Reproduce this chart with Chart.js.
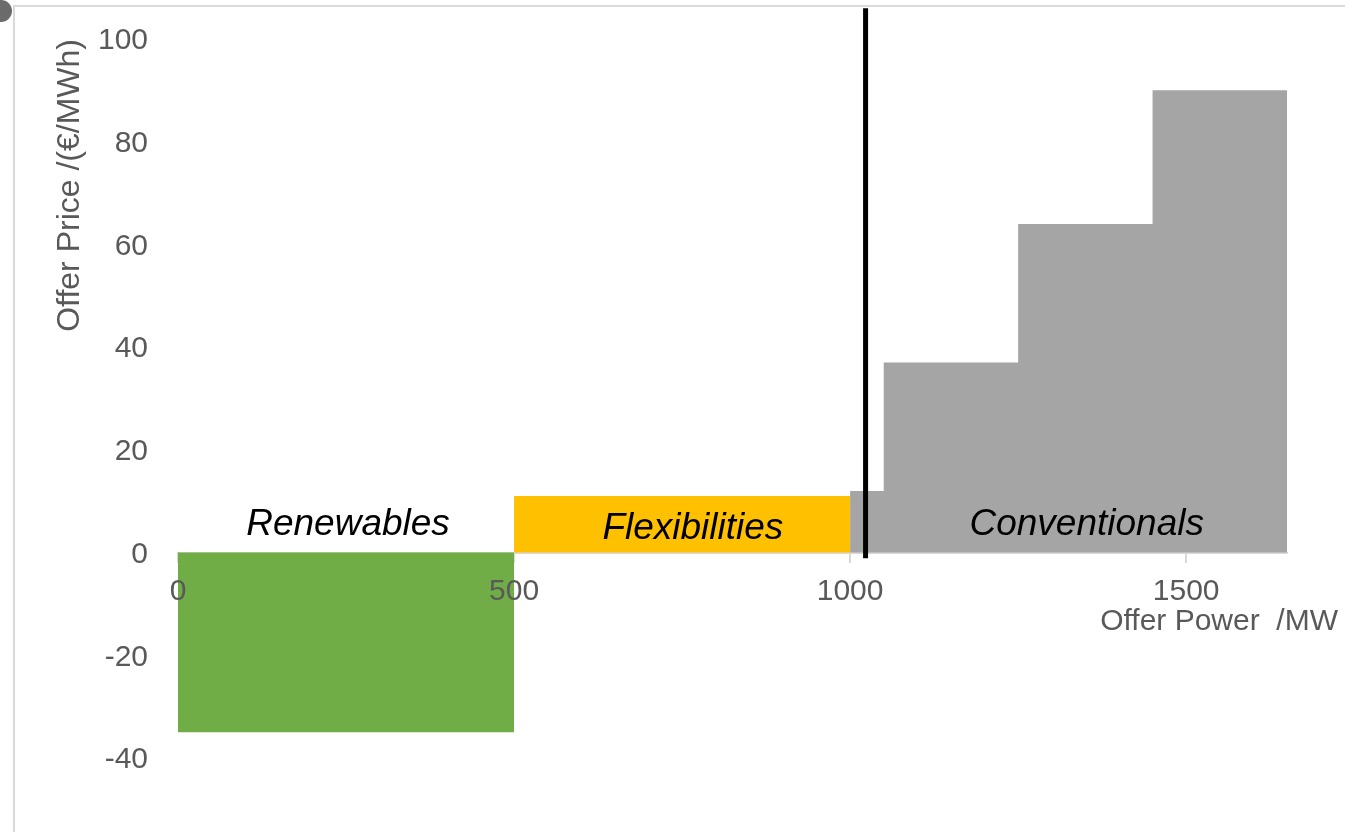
<!DOCTYPE html>
<html><head><meta charset="utf-8">
<script src="https://cdn.jsdelivr.net/npm/chart.js@4.4.1/dist/chart.umd.min.js"></script>
<style>
html,body{margin:0;padding:0;background:#fff;overflow:hidden;width:1345px;height:832px;}
#wrap{position:absolute;left:0;top:0;width:1345px;height:832px;}
.frameTop{position:absolute;left:13px;top:5px;width:1332px;height:2px;background:#dadada;}
.frameLeft{position:absolute;left:13px;top:5px;width:2px;height:827px;background:#dadada;}
.corner{position:absolute;left:-10px;top:0px;width:22px;height:22px;border-radius:50%;background:#6b6b6b;}
</style></head>
<body>
<div id="wrap"><canvas id="c"></canvas></div>
<div class="frameTop"></div><div class="frameLeft"></div><div class="corner"></div>
<script>
// ---- data ----
const blockStartMW = [0, 500, 1000, 1050, 1250, 1450];
const blockEndMW = [500, 1000, 1050, 1250, 1450, 1650];
const offerPrice = [-35, 11, 12, 37, 64, 90];
const blockTechnology = ['Renewables', 'Flexibilities', 'Conventionals', 'Conventionals', 'Conventionals', 'Conventionals'];
const technologies = ['Renewables', 'Flexibilities', 'Conventionals'];
const techColors = ['#70AD47', '#FFC000', '#A5A5A5'];
const techLabelX = [253, 766, 1352];
const techLabelY = [5.5, 4.6, 5.5];
const demandMW = 1023;
const demandLineY = [-1.1, 106];
const xTickValues = [0, 500, 1000, 1500];
const yTickValues = [-40, -20, 0, 20, 40, 60, 80, 100];
const xAxisTitle = 'Offer Power  /MW';
const yAxisTitle = 'Offer Price /(€/MWh)';

const FONT = '"Liberation Sans", Arial, sans-serif';
const AXIS_GREY = '#595959';

// build step datasets per technology
const datasets = [];
datasets.push({
  label: 'Demand',
  data: demandLineY.map(v => ({x: demandMW, y: v})),
  borderColor: '#000000',
  borderWidth: 5,
  pointRadius: 0,
  fill: false,
  clip: false,
  borderCapStyle: 'butt'
});
technologies.forEach((tech, ti) => {
  const pts = [];
  let lastEnd = null, lastPrice = null;
  blockTechnology.forEach((t, i) => {
    if (t !== tech) return;
    pts.push({x: blockStartMW[i], y: offerPrice[i]});
    lastEnd = blockEndMW[i]; lastPrice = offerPrice[i];
  });
  pts.push({x: lastEnd, y: lastPrice});
  datasets.push({
    label: tech,
    data: pts,
    stepped: 'before',
    borderWidth: 0,
    borderColor: 'rgba(0,0,0,0)',
    backgroundColor: techColors[ti],
    pointRadius: 0,
    fill: 'origin'
  });
});

const textPlugin = {
  id: 'textPlugin',
  afterDatasetsDraw(chart) {
    const {ctx, scales: {x, y}} = chart;
    ctx.save();
    ctx.font = 'italic 37px ' + FONT;
    ctx.fillStyle = '#000000';
    ctx.textAlign = 'center';
    ctx.textBaseline = 'middle';
    technologies.forEach((t, i) => {
      ctx.fillText(t, x.getPixelForValue(techLabelX[i]), y.getPixelForValue(techLabelY[i]));
    });
    ctx.font = '30px ' + FONT;
    ctx.fillStyle = AXIS_GREY;
    ctx.textAlign = 'right';
    ctx.fillText(xAxisTitle, chart.chartArea.right + 51, y.getPixelForValue(0) + 69);
    ctx.restore();
  }
};

const chart = new Chart(document.getElementById('c'), {
  type: 'line',
  data: {datasets},
  plugins: [textPlugin],
  options: {
    responsive: true,
    maintainAspectRatio: false,
    animation: false,
    devicePixelRatio: 1,
    layout: {padding: {left: 51, top: 39, right: 58, bottom: 74}},
    plugins: {legend: {display: false}, tooltip: {enabled: false}},
    scales: {
      x: {
        type: 'linear',
        position: {y: 0},
        min: 0, max: 1650,
        afterBuildTicks: s => { s.ticks = xTickValues.map(v => ({value: v})); },
        afterFit: s => { s.height = 40; s.paddingLeft = 0; s.paddingRight = 0; },
        ticks: {color: AXIS_GREY, font: {size: 30, family: FONT}, padding: 12, maxRotation: 0, autoSkip: false,
                z: 1, callback: v => String(v)},
        grid: {display: true, drawOnChartArea: false, drawTicks: true, tickLength: 9, color: '#d9d9d9', lineWidth: 2},
        border: {display: true, color: '#d9d9d9', width: 2}
      },
      y: {
        type: 'linear',
        position: 'left',
        min: -40, max: 100,
        afterBuildTicks: s => { s.ticks = yTickValues.map(v => ({value: v})); },
        afterFit: s => { s.width = 127; s.paddingTop = 0; s.paddingBottom = 0; },
        ticks: {color: AXIS_GREY, font: {size: 30, family: FONT}, padding: 30, autoSkip: false,
                labelOffset: 2, callback: v => String(v)},
        grid: {display: false, drawTicks: false},
        border: {display: false},
        title: {display: true, text: yAxisTitle, align: 'end', color: AXIS_GREY,
                font: {size: 32, family: FONT}, padding: {top: 0, bottom: 0}}
      }
    }
  }
});

// calibrate the plot area so it matches the reference frame
const targetArea = {left: 178, top: 39, right: 1287, bottom: 758};
for (let k = 0; k < 3; k++) {
  const a = chart.chartArea;
  const p = chart.options.layout.padding;
  p.top += targetArea.top - a.top;
  p.bottom += a.bottom - targetArea.bottom;
  p.left += targetArea.left - a.left;
  p.right += a.right - targetArea.right;
  chart.update();
}
</script>
</body></html>
